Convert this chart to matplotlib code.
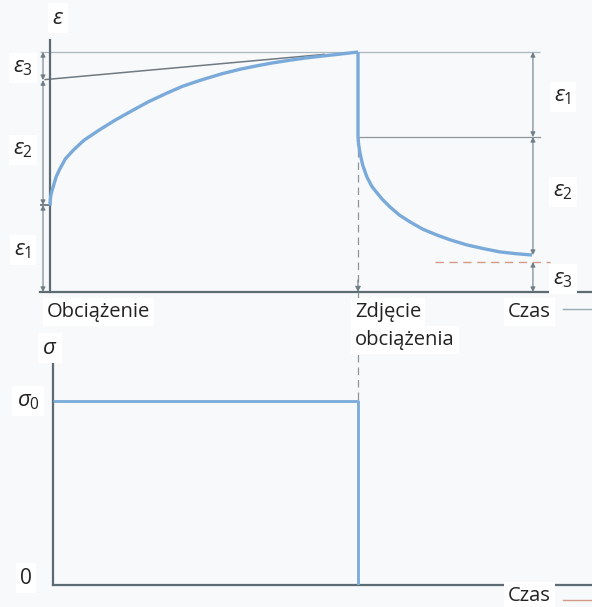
import matplotlib
matplotlib.use("Agg")
import matplotlib.pyplot as plt

plt.rcParams['font.family'] = ['Open Sans', 'DejaVu Sans']
plt.rcParams['mathtext.fontset'] = 'custom'
plt.rcParams['mathtext.it'] = 'Open Sans:italic'
plt.rcParams['mathtext.rm'] = 'Open Sans'

# ---- data (time in units of load duration, strain normalised to max) ----
load_t = [0.0, 0.001, 0.003, 0.006, 0.01, 0.02, 0.03, 0.05, 0.075, 0.11, 0.16, 0.21,
          0.27, 0.32, 0.38, 0.43, 0.49, 0.56, 0.62, 0.67, 0.72, 0.78, 0.83, 0.89, 0.94, 1.0]
load_e = [0.36, 0.385, 0.404, 0.42, 0.437, 0.48, 0.508, 0.555, 0.59, 0.632, 0.675, 0.715,
          0.758, 0.793, 0.829, 0.857, 0.883, 0.91, 0.929, 0.942, 0.954, 0.966, 0.975, 0.984, 0.991, 1.0]
unload_t = [1.0, 1.0, 1.002, 1.0065, 1.015, 1.029, 1.045, 1.062, 1.08, 1.104, 1.135, 1.169,
            1.21, 1.256, 1.30, 1.354, 1.41, 1.461, 1.51, 1.565]
unload_e = [1.0, 0.646, 0.615, 0.579, 0.53, 0.479, 0.44, 0.4125, 0.385, 0.354, 0.32, 0.292,
            0.262, 0.2375, 0.217, 0.196, 0.18, 0.167, 0.16, 0.154]
tangent_t = [-0.016, 0.89]
tangent_e = [0.885, 0.99]
eps_max = 1.0
eps_elastic = 0.3625
eps_creep_start = 0.883
eps_after_unload = 0.646
eps_end = 0.154
eps_perm = 0.125
t_unload = 1.0
t_meas = 1.568

stress_t = [0.0, 1.0, 1.0]
stress_s = [1.0, 1.0, 0.0]

BG = '#f8f9fb'
AX = '#5d6c72'
BLUE = '#7aaad9'
GRAY = '#8d9599'
ARR = '#6f7f87'

W, H = 592, 607
fig = plt.figure(figsize=(W / 100, H / 100), dpi=100, facecolor=BG)

def fr(x, y):
    return x / W, 1 - y / H

# ---------- top axes ----------
ax = fig.add_axes([40 / W, (H - 292) / H, 552 / W, 252 / H])
ax.set_facecolor('none')
ax.set_xlim(-10 / 308, 542 / 308)
ax.set_ylim(0, 252 / 240)
for s in ['top', 'right']:
    ax.spines[s].set_visible(False)
ax.spines['left'].set_position(('data', 0))
for s in ['left', 'bottom']:
    ax.spines[s].set_color(AX)
    ax.spines[s].set_linewidth(1.6)
ax.set_xticks([])
ax.set_yticks([])

x0 = -10 / 308
x_end = 490 / 308
ax.plot([x0, x_end], [eps_max, eps_max], color='#a9b7bf', lw=0.9, solid_capstyle='butt')
ax.plot(tangent_t, tangent_e, color='#707a80', lw=1.1)
ax.plot([t_unload, x_end], [eps_after_unload, eps_after_unload], color=GRAY, lw=0.9)
ax.plot([x0, 0], [eps_elastic, eps_elastic], color=AX, lw=1.2)
ax.plot([1.25, 1.625], [eps_perm, eps_perm], color='#d49a88', lw=1.0, dashes=(6, 4))
ax.plot(load_t, load_e, color=BLUE, lw=2.4, solid_capstyle='butt', solid_joinstyle='round', zorder=4)
ax.plot(unload_t, unload_e, color=BLUE, lw=2.4, solid_capstyle='butt', solid_joinstyle='round', zorder=4)

# dashed drop line with arrow
ax.plot([t_unload, t_unload], [eps_after_unload, 0.03], color=GRAY, lw=0.9, dashes=(6, 4))
ax.annotate('', xy=(t_unload, 0.0), xytext=(t_unload, 0.05),
            arrowprops=dict(arrowstyle='-|>', color=ARR, lw=0.8, mutation_scale=8,
                            shrinkA=0, shrinkB=0))

def darrow(a, t, y1, y2):
    a.annotate('', xy=(t, y1), xytext=(t, y2),
               arrowprops=dict(arrowstyle='<|-|>', color=ARR, lw=0.8, mutation_scale=7,
                               shrinkA=0, shrinkB=0), annotation_clip=False)

tl = -7 / 308
darrow(ax, tl, eps_max, eps_creep_start)
darrow(ax, tl, eps_creep_start, eps_elastic)
darrow(ax, tl, eps_elastic, 0)
darrow(ax, t_meas, eps_max, eps_after_unload)
darrow(ax, t_meas, eps_after_unload, eps_end)
darrow(ax, t_meas, eps_perm, 0)

# ---------- bottom axes ----------
bx = fig.add_axes([53 / W, (H - 585) / H, 539 / W, 223 / H])
bx.set_facecolor('none')
bx.set_xlim(0, 539 / 305)
bx.set_ylim(0, 223 / 184)
for s in ['top', 'right']:
    bx.spines[s].set_visible(False)
for s in ['left', 'bottom']:
    bx.spines[s].set_color(AX)
    bx.spines[s].set_linewidth(1.6)
bx.set_xticks([])
bx.set_yticks([])
bx.plot(stress_t, stress_s, color=BLUE, lw=2.0, solid_capstyle='butt', zorder=4)
bx.plot([1.0, 1.0], [293 / 184, 1.0], color=GRAY, lw=0.9, dashes=(6, 4), clip_on=False)

# ---------- texts ----------
box = dict(facecolor='white', edgecolor='none', pad=3)
fs = 14.5

def t(x, y, s, ha='center', size=fs, **kw):
    fig.text(*fr(x, y), s, ha=ha, va='center', fontsize=size, color='#222222', bbox=box, **kw)

t(58, 18, r'$\epsilon$', size=16)
t(23, 68, r'$\epsilon_3$', size=16)
t(23, 150, r'$\epsilon_2$', size=16)
t(23, 250, r'$\epsilon_1$', size=16)
t(563, 97, r'$\epsilon_1$', size=16)
t(563, 192, r'$\epsilon_2$', size=16)
t(563, 279, r'$\epsilon_3$', size=16)
t(47, 312, 'Obciążenie', ha='left')
t(355, 312, 'Zdjęcie', ha='left')
t(355, 340, 'obciążenia', ha='left')
t(508, 312, 'Czas', ha='left')
t(508, 596, 'Czas', ha='left')
t(50, 348, r'$\sigma$', size=16)
t(28, 401, r'$\sigma_0$', size=16)
t(26, 578, '0', size=15)

fig.add_artist(plt.Line2D([563 / W, 1.0], [1 - 309 / H, 1 - 309 / H], color='#9aaab3', lw=1.0))
fig.add_artist(plt.Line2D([563 / W, 1.0], [1 - 600 / H, 1 - 600 / H], color='#d49a88', lw=1.0))

fig.savefig('out.png', dpi=100, facecolor=BG)
